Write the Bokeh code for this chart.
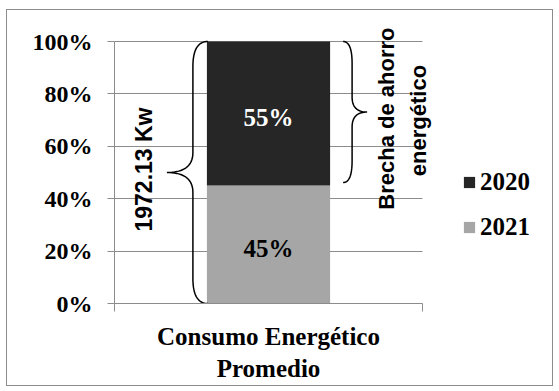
import numpy as np
from bokeh.plotting import figure
from bokeh.models import (Range1d, FixedTicker, NumeralTickFormatter, Legend,
                          LegendItem, Label, ColumnDataSource)
from bokeh.core.properties import value
from bokeh.embed import file_html
from bokeh.resources import INLINE

# ---- data ----
category = "Consumo Energético\nPromedio"
series = ["2021", "2020"]            # bottom to top of the stack
values = [0.45, 0.55]
colors = ["#A6A6A6", "#262626"]
value_label_colors = ["black", "white"]
legend_order = ["2020", "2021"]
y_ticks = [0, 0.2, 0.4, 0.6, 0.8, 1.0]
total_label = "1972.13 Kw"
gap_label = ["Brecha de ahorro", "energético"]

SERIF = "Liberation Serif"
SANS = "Liberation Sans"

# figure box (inside the outer chart border) and plot area, in pixels
W, H = 545, 375
L, R, T, B = 107, 0, 0, 82
FW, FH = W - L - R, H - T - B
PLOT_W, PLOT_H = 308, 262          # size of the value area inside the frame

p = figure(width=W, height=H, output_backend="svg", toolbar_location=None,
           title=None, x_range=Range1d(0, FW / PLOT_W),
           y_range=Range1d(0, FH / PLOT_H),
           min_border_left=L, min_border_right=R, min_border_top=T,
           min_border_bottom=B, background_fill_color="white",
           border_fill_color="white")
p.outline_line_color = None
p.margin = (10, 7, 6, 7)
p.styles = {"outline": "1px solid #8C8C8C"}


def px_x(d):
    return d / PLOT_W


def px_y(d):
    return d / PLOT_H


bar_x = 0.5
bar_w = 0.4
bottoms = np.concatenate([[0], np.cumsum(values)[:-1]])
tops = np.cumsum(values)
renderers = {}
for name, b, t, c, lc, v in zip(series, bottoms, tops, colors, value_label_colors, values):
    src = ColumnDataSource(dict(x=[bar_x], bottom=[b], top=[t],
                                mid=[(b + t) / 2 - px_y(4)],
                                label=[f"{v:.0%}"]))
    renderers[name] = p.vbar(x="x", bottom="bottom", top="top", width=bar_w,
                             source=src, fill_color=c, line_color=None)
    p.text(x="x", y="mid", text="label", source=src, text_align="center",
           text_baseline="middle", text_color=lc, text_font=value(SERIF),
           text_font_style="bold", text_font_size="25px")

# axes
grey = "#8C8C8C"
yax = p.yaxis[0]
yax.ticker = FixedTicker(ticks=y_ticks)
yax.formatter = NumeralTickFormatter(format="0%")
yax.bounds = (0, 1)
yax.major_label_text_font = SERIF
yax.major_label_text_font_style = "bold"
yax.major_label_text_font_size = "24px"
yax.major_label_text_color = "black"
yax.major_tick_out = 7
yax.major_tick_in = 0
yax.minor_tick_out = 0
yax.minor_tick_in = 0
yax.major_tick_line_color = grey
yax.axis_line_color = grey
yax.major_label_standoff = 15

xax = p.xaxis[0]
xax.ticker = FixedTicker(ticks=[bar_x], minor_ticks=[0, 1])
xax.major_label_overrides = {bar_x: category}
xax.bounds = (0, 1)
xax.major_label_text_font = SERIF
xax.major_label_text_font_style = "bold"
xax.major_label_text_font_size = "25px"
xax.major_label_text_color = "black"
xax.major_label_standoff = 11
xax.major_tick_out = 0
xax.major_tick_in = 0
xax.minor_tick_out = 8
xax.minor_tick_in = 0
xax.minor_tick_line_color = grey
xax.axis_line_color = grey

p.xgrid.visible = False
p.ygrid.ticker = FixedTicker(ticks=y_ticks)
p.ygrid.cross_bounds = (0, 1)
p.ygrid.grid_line_color = grey
p.ygrid.grid_line_width = 1


# braces
def quad(p0, c, p1, n=20):
    t = np.linspace(0, 1, n)
    x = (1 - t) ** 2 * p0[0] + 2 * (1 - t) * t * c[0] + t ** 2 * p1[0]
    y = (1 - t) ** 2 * p0[1] + 2 * (1 - t) * t * c[1] + t ** 2 * p1[1]
    return x, y


def brace(x_end, x_mid, x_tip, y0, y1, r_end, r_tip):
    ym = (y0 + y1) / 2
    parts = [
        quad((x_end, y1), (x_mid, y1), (x_mid, y1 - r_end)),
        quad((x_mid, ym + r_tip), (x_mid, ym), (x_tip, ym)),
        quad((x_tip, ym), (x_mid, ym), (x_mid, ym - r_tip)),
        quad((x_mid, y0 + r_end), (x_mid, y0), (x_end, y0)),
    ]
    xs = np.concatenate([q[0] for q in parts])
    ys = np.concatenate([q[1] for q in parts])
    return xs, ys


total = tops[-1]
bar_left = bar_x - bar_w / 2
bar_right = bar_x + bar_w / 2
bx, by = brace(bar_left + px_x(1), bar_left - px_x(14), bar_left - px_x(40),
               0, total, px_y(25), px_y(20))
p.line(bx, by, line_color="black", line_width=1.5)
bx2, by2 = brace(bar_right + px_x(13), bar_right + px_x(22), bar_right + px_x(37),
                 values[0] + px_y(3), total, px_y(22), px_y(15))
p.line(bx2, by2, line_color="black", line_width=1.5)

p.add_layout(Label(x=bar_left - px_x(63), y=total / 2 + px_y(3), text=total_label,
                   angle=np.pi / 2, text_align="center", text_baseline="middle",
                   text_font=SANS, text_font_style="bold", text_font_size="23px",
                   text_color="black"))
gap_mid = (values[0] + total) / 2
p.add_layout(Label(x=bar_right + px_x(56), y=gap_mid - px_y(5), text=gap_label[0],
                   angle=np.pi / 2, text_align="center", text_baseline="middle",
                   text_font=SANS, text_font_style="bold", text_font_size="22px",
                   text_color="black"))
p.add_layout(Label(x=bar_right + px_x(88), y=gap_mid - px_y(7), text=gap_label[1],
                   angle=np.pi / 2, text_align="center", text_baseline="middle",
                   text_font=SANS, text_font_style="bold", text_font_size="22px",
                   text_color="black"))

legend = Legend(items=[LegendItem(label=n, renderers=[renderers[n]]) for n in legend_order],
                location=(348, 62), padding=0, margin=0, spacing=17,
                glyph_width=14, glyph_height=14, label_standoff=4,
                label_text_font=SERIF, label_text_font_style="bold",
                label_text_font_size="25px", label_text_color="black",
                background_fill_alpha=0, border_line_alpha=0)
p.add_layout(legend)

open("out.html", "w").write(file_html(p, INLINE))
